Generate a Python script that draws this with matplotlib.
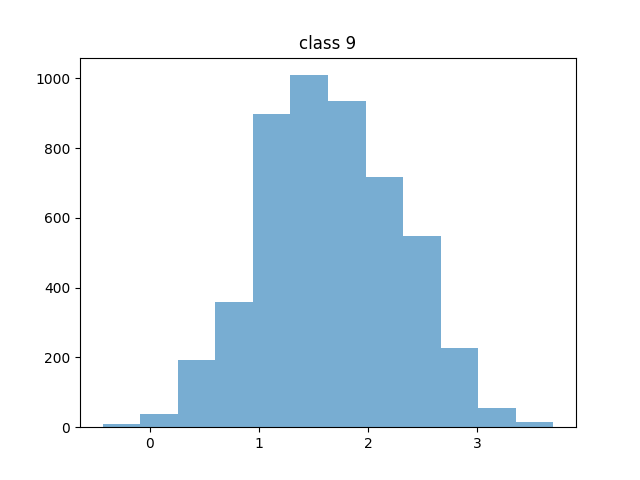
import numpy as np
import matplotlib
matplotlib.use('Agg')
import matplotlib.pyplot as plt

# histogram of class 9 (bin counts)
bin_lo = -0.431
bin_hi = 3.697
counts = [9, 38, 193, 358, 897, 1009, 934, 716, 547, 226, 54, 14]
title = 'class 9'

if __name__ == '__main__':
    edges = np.linspace(bin_lo, bin_hi, len(counts) + 1)
    centers = 0.5*(edges[:-1] + edges[1:])

    fig, axs = plt.subplots(figsize=(6.4, 4.8), dpi=100)
    axs.hist(centers, bins=edges, weights=counts, alpha=0.6)
    axs.set_title(title)

    fig.savefig('out.png')
